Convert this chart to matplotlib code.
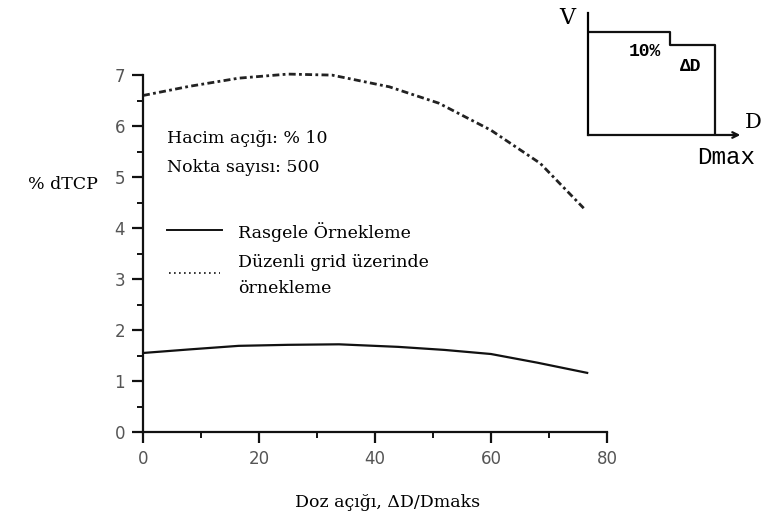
import numpy as np
import matplotlib
matplotlib.use('Agg')
import matplotlib.pyplot as plt

# doz acigi (%) vs %dTCP
doz_grid = [0, 8, 16.5, 25, 32.6, 42.5, 51, 60, 68.5, 76]
dtcp_grid = [6.6, 6.78, 6.94, 7.02, 7.0, 6.77, 6.45, 5.92, 5.27, 4.39]

doz_rasgele = [0, 8, 16.5, 25, 33.8, 44, 52, 60, 68, 76.6]
dtcp_rasgele = [1.55, 1.62, 1.69, 1.71, 1.72, 1.67, 1.61, 1.53, 1.36, 1.16]

# schematic DVH in the inset (fraction of Dmax, fraction of volume)
inset_dose = [0, 0.646, 0.646, 1.0, 1.0]
inset_vol = [1.0, 1.0, 0.874, 0.874, 0.0]

serif = ['DejaVu Serif']
sans = ['DejaVu Sans']
mono = ['Liberation Mono', 'DejaVu Sans Mono']
fs = 12.5

fig = plt.figure(figsize=(7.63, 5.18), dpi=100)
ax = fig.add_axes([0.1874, 0.166, 0.608, 0.689])

ax.plot(doz_rasgele, dtcp_rasgele, color='#111111', lw=1.6)
ax.plot(doz_grid, dtcp_grid, color='#222222', lw=2.0,
        linestyle=(0, (2.5, 1.2, 1, 1.2)), clip_on=False)

ax.set_xlim(0, 80)
ax.set_ylim(0, 7)
ax.spines['top'].set_visible(False)
ax.spines['right'].set_visible(False)
for s in ('left', 'bottom'):
    ax.spines[s].set_linewidth(1.6)
    ax.spines[s].set_color('#111111')

ax.set_xticks([0, 20, 40, 60, 80])
ax.set_xticks([10, 30, 50, 70], minor=True)
ax.set_yticks(range(8))
ax.set_yticks(np.arange(0.5, 7, 1), minor=True)
ax.tick_params(which='major', length=8, width=1.6, pad=5, color='#111111',
               labelsize=12, labelcolor='#555555')
ax.tick_params(which='minor', length=4, width=1.4, color='#111111')
for lab in ax.get_xticklabels() + ax.get_yticklabels():
    lab.set_family(sans)

fig.text(0.5085, 0.029, 'Doz açığı, ΔD/Dmaks', family=serif, fontsize=fs,
         ha='center', va='center')
fig.text(0.0367, 0.643, '% dTCP', family=serif, fontsize=fs, va='center')

ax.text(0.052, 0.8235, 'Hacim açığı: % 10', transform=ax.transAxes,
        family=serif, fontsize=fs, va='center')
ax.text(0.052, 0.742, 'Nokta sayısı: 500', transform=ax.transAxes,
        family=serif, fontsize=fs, va='center')

# legend drawn by hand to match the original layout
ax.plot([0.052, 0.170], [0.566, 0.566], transform=ax.transAxes,
        color='#111111', lw=1.4)
ax.plot([0.056, 0.166], [0.445, 0.445], transform=ax.transAxes,
        color='#111111', lw=1.2, linestyle=(0, (1, 2)))
ax.text(0.205, 0.560, 'Rasgele Örnekleme', transform=ax.transAxes,
        family=serif, fontsize=fs, va='center')
ax.text(0.205, 0.476, 'Düzenli grid üzerinde', transform=ax.transAxes,
        family=serif, fontsize=fs, va='center')
ax.text(0.205, 0.403, 'örnekleme', transform=ax.transAxes,
        family=serif, fontsize=fs, va='center')

# inset schematic
axi = fig.add_axes([0.7706, 0.7394, 0.1997, 0.2355])
axi.plot(inset_dose, inset_vol, color='#111111', lw=1.6)
axi.set_xlim(0, 1.2)
axi.set_ylim(0, 1.184)
axi.patch.set_alpha(0)
for s in ('top', 'right', 'bottom'):
    axi.spines[s].set_visible(False)
axi.spines['left'].set_linewidth(1.6)
axi.set_xticks([])
axi.set_yticks([])
axi.annotate('', xy=(1.2, 0), xytext=(0, 0), xycoords='data',
             arrowprops=dict(arrowstyle='->', lw=1.6, color='#111111',
                             shrinkA=0, shrinkB=0), annotation_clip=False)
axi.text(-0.165, 1.136, 'V', family=serif, fontsize=16, ha='center',
         va='center', clip_on=False)
axi.text(1.235, 0.117, 'D', family=serif, fontsize=15, ha='left',
         va='center', clip_on=False)
axi.text(0.449, 0.806, '10%', family=mono, fontsize=13, fontweight='bold',
         ha='center', va='center')
axi.text(0.811, 0.66, 'ΔD', family=mono, fontsize=13, fontweight='bold',
         ha='center', va='center')
axi.text(1.087, -0.214, 'Dmax', family=mono, fontsize=17.5,
         ha='center', va='center', clip_on=False)

fig.savefig('out.png', dpi=100)
